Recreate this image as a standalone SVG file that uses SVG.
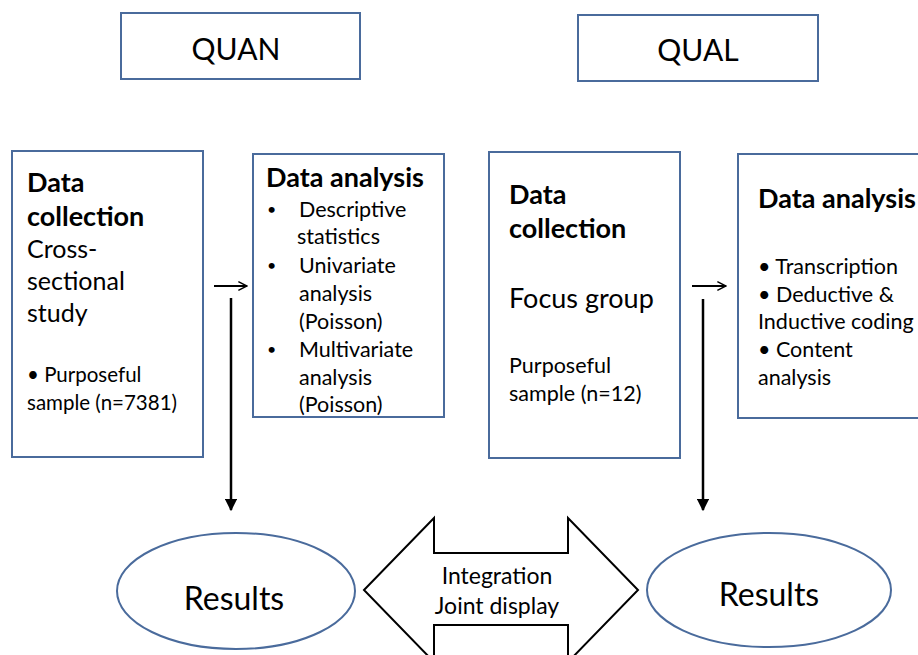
<svg xmlns="http://www.w3.org/2000/svg" width="918" height="655" viewBox="0 0 918 655">
  <defs>
    <style>
      .box { fill: #ffffff; stroke: #4a6b9c; stroke-width: 2; }
      .oval { fill: #ffffff; stroke: #4a6b9c; stroke-width: 2; }
      text { font-family: Lato, "Open Sans", "Liberation Sans", sans-serif; fill: #000000; }
      .head { font-size: 27px; font-weight: bold; }
      .big { font-size: 25px; }
      .small { font-size: 21.5px; }
      .dot { font-size: 16px; }
      .title { font-size: 30px; text-anchor: middle; }
      .res { font-size: 32px; text-anchor: middle; }
      .mid { text-anchor: middle; font-size: 23px; }
      .line { stroke: #000000; stroke-width: 2.5; fill: none; }
      .thin { stroke: #000000; stroke-width: 1.8; fill: none; }
    </style>
    <marker id="tri" viewBox="0 0 10 10" refX="9" refY="5" markerWidth="5" markerHeight="5" orient="auto" markerUnits="strokeWidth">
      <path d="M0,0 L10,5 L0,10 Z" fill="#000000"/>
    </marker>
    <marker id="open" viewBox="0 0 10 10" refX="9" refY="5" markerWidth="6" markerHeight="6" orient="auto" markerUnits="strokeWidth">
      <path d="M1,1 L9,5 L1,9" fill="none" stroke="#000000" stroke-width="1.3"/>
    </marker>
  </defs>

  <rect width="918" height="655" fill="#ffffff"/>

  <!-- Strand headers -->
  <g id="quan-header">
    <rect class="box" x="121" y="13" width="239" height="66"/>
    <text class="title" x="236" y="60">QUAN</text>
  </g>
  <g id="qual-header">
    <rect class="box" x="578" y="15" width="240" height="66"/>
    <text class="title" x="698" y="61">QUAL</text>
  </g>

  <!-- Quantitative strand -->
  <g id="quan-collection">
    <rect class="box" x="12" y="151" width="191" height="306"/>
    <text class="head" x="27" y="192">Data</text>
    <text class="head" x="27" y="226">collection</text>
    <text class="big" x="27" y="258">Cross-</text>
    <text class="big" x="27" y="290">sectional</text>
    <text class="big" x="27" y="322">study</text>
    <text class="small" x="27" y="382" style="font-size:20.5px">• Purposeful</text>
    <text class="small" x="27" y="410" style="font-size:20.5px">sample (n=7381)</text>
  </g>
  <g id="quan-analysis">
    <rect class="box" x="253" y="154" width="191" height="263"/>
    <text class="head" x="266" y="187">Data analysis</text>
    <text class="dot" x="267" y="215">•</text>
    <text class="small" x="299" y="217">Descriptive</text>
    <text class="small" x="297" y="244">statistics</text>
    <text class="dot" x="267" y="271">•</text>
    <text class="small" x="299" y="273">Univariate</text>
    <text class="small" x="299" y="301">analysis</text>
    <text class="small" x="299" y="329">(Poisson)</text>
    <text class="dot" x="267" y="355">•</text>
    <text class="small" x="299" y="357">Multivariate</text>
    <text class="small" x="299" y="385">analysis</text>
    <text class="small" x="299" y="412">(Poisson)</text>
  </g>

  <!-- Qualitative strand -->
  <g id="qual-collection">
    <rect class="box" x="489" y="152" width="191" height="306"/>
    <text class="head" x="509" y="204">Data</text>
    <text class="head" x="509" y="238">collection</text>
    <text class="big" x="509" y="308" style="font-size:27px">Focus group</text>
    <text class="small" x="509" y="373">Purposeful</text>
    <text class="small" x="509" y="401">sample (n=12)</text>
  </g>
  <g id="qual-analysis">
    <rect class="box" x="738" y="154" width="190" height="264"/>
    <text class="head" x="758" y="208">Data analysis</text>
    <text class="small" x="758" y="274">• Transcription</text>
    <text class="small" x="758" y="302">• Deductive &amp;</text>
    <text class="small" x="758" y="329">Inductive coding</text>
    <text class="small" x="758" y="357">• Content</text>
    <text class="small" x="758" y="385">analysis</text>
  </g>

  <!-- Results -->
  <g id="quan-results">
    <ellipse class="oval" cx="236" cy="591" rx="119" ry="58"/>
    <text class="res" x="234" y="610">Results</text>
  </g>
  <g id="qual-results">
    <ellipse class="oval" cx="769" cy="590" rx="122" ry="57"/>
    <text class="res" x="769" y="606">Results</text>
  </g>

  <!-- Integration double arrow -->
  <g id="integration">
    <path d="M364,590 L434,518 L434,553 L568,553 L568,518 L638,590 L568,662 L568,625 L434,625 L434,662 Z" fill="#ffffff" stroke="#000000" stroke-width="2"/>
    <text class="mid" x="497" y="584">Integration</text>
    <text class="mid" x="497" y="614">Joint display</text>
  </g>

  <!-- Connectors -->
  <g id="connectors">
    <line class="thin" x1="214" y1="286" x2="247" y2="286" marker-end="url(#open)"/>
    <line class="thin" x1="692" y1="286" x2="726" y2="286" marker-end="url(#open)"/>
    <line class="line" x1="231" y1="298" x2="231" y2="510" marker-end="url(#tri)"/>
    <line class="line" x1="703" y1="299" x2="703" y2="510" marker-end="url(#tri)"/>
  </g>
</svg>
